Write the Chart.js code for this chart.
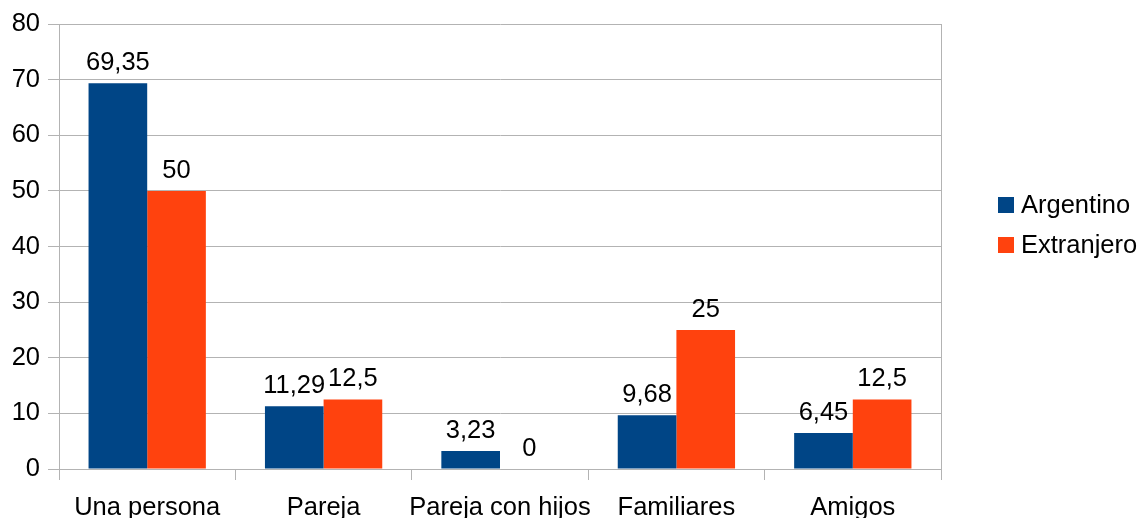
<!DOCTYPE html>
<html>
<head>
<meta charset="utf-8">
<script src="https://cdn.jsdelivr.net/npm/chart.js@4.4.1/dist/chart.umd.min.js"></script>
<style>
html,body{margin:0;padding:0;background:#fff;}
#wrap{width:1143px;height:518px;position:relative;}
</style>
</head>
<body>
<div id="wrap"><canvas id="c" width="1143" height="518"></canvas></div>
<script>
const categories = ["Una persona", "Pareja", "Pareja con hijos", "Familiares", "Amigos"];
const seriesNames = ["Argentino", "Extranjero"];
const argentino = [69.35, 11.29, 3.23, 9.68, 6.45];
const extranjero = [50, 12.5, 0, 25, 12.5];
const yTicks = [0, 10, 20, 30, 40, 50, 60, 70, 80];
const colors = ["#004586", "#ff420e"];
const FONT = "'Liberation Sans', Arial, sans-serif";
const FS = 25.5;

const fmt = v => String(v).replace('.', ',');

const valueLabels = {
  id: 'valueLabels',
  afterDatasetsDraw(chart) {
    const ctx = chart.ctx;
    ctx.save();
    ctx.font = FS + "px " + FONT;
    ctx.fillStyle = "#000";
    ctx.textAlign = "center";
    ctx.textBaseline = "alphabetic";
    chart.data.datasets.forEach((ds, i) => {
      const meta = chart.getDatasetMeta(i);
      meta.data.forEach((bar, j) => {
        ctx.fillText(fmt(ds.data[j]), bar.x, bar.y - 13);
      });
    });
    ctx.restore();
  }
};

const frame = {
  id: 'frame',
  beforeDatasetsDraw(chart) {
    const {ctx, chartArea} = chart;
    ctx.save();
    ctx.strokeStyle = "#b3b3b3";
    ctx.lineWidth = 1;
    ctx.beginPath();
    const x = Math.round(chartArea.right) + 0.5;
    ctx.moveTo(x, chartArea.top);
    ctx.lineTo(x, chartArea.bottom);
    ctx.stroke();
    ctx.restore();
  }
};

const customLegend = {
  id: 'customLegend',
  afterDraw(chart) {
    const ctx = chart.ctx;
    ctx.save();
    ctx.font = FS + "px " + FONT;
    ctx.textBaseline = "middle";
    ctx.textAlign = "left";
    chart.data.datasets.forEach((ds, i) => {
      const cy = 205 + i * 40;
      ctx.fillStyle = ds.backgroundColor;
      ctx.fillRect(998, cy - 8, 16, 16);
      ctx.fillStyle = "#000";
      ctx.fillText(ds.label, 1021, cy + 1);
    });
    ctx.restore();
  }
};

new Chart(document.getElementById('c'), {
  type: 'bar',
  data: {
    labels: categories,
    datasets: [
      {label: seriesNames[0], data: argentino, backgroundColor: colors[0]},
      {label: seriesNames[1], data: extranjero, backgroundColor: colors[1]}
    ]
  },
  options: {
    responsive: false,
    animation: false,
    devicePixelRatio: 1,
    layout: {padding: {left: 0, right: 202, top: 24, bottom: 0}},
    plugins: {legend: {display: false}, tooltip: {enabled: false}},
    datasets: {bar: {categoryPercentage: 0.665, barPercentage: 1.0}},
    scales: {
      x: {
        grid: {display: true, drawOnChartArea: false, drawTicks: true, tickLength: 11, color: "#b3b3b3", offset: true},
        border: {color: "#b3b3b3"},
        ticks: {color: "#000", font: {family: FONT, size: FS}, padding: 13, maxRotation: 0, autoSkip: false},
        afterFit(s) { s.height = 49; }
      },
      y: {
        min: yTicks[0], max: yTicks[yTicks.length - 1],
        grid: {color: "#b3b3b3", tickLength: 11},
        border: {color: "#b3b3b3"},
        ticks: {stepSize: yTicks[1] - yTicks[0], color: "#000", font: {family: FONT, size: FS}, padding: 8},
        afterFit(s) { s.width = 59; }
      }
    }
  },
  plugins: [valueLabels, frame, customLegend]
});
</script>
</body>
</html>
